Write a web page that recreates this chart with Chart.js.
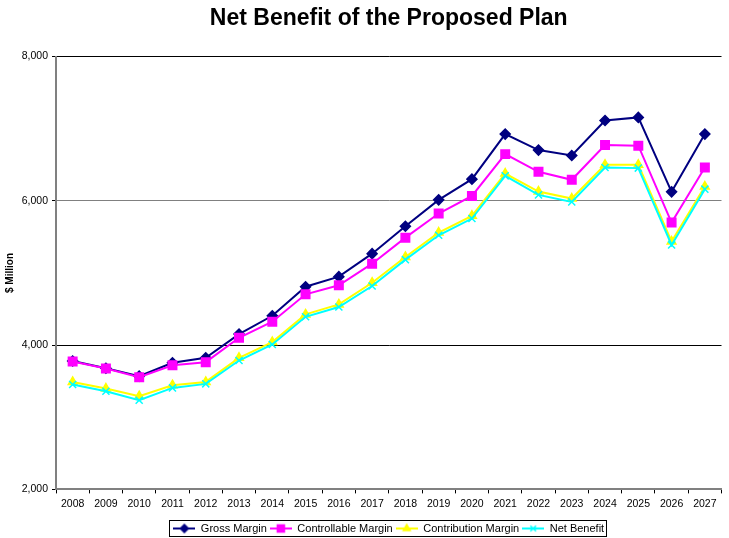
<!DOCTYPE html>
<html>
<head>
<meta charset="utf-8">
<script src="https://cdn.jsdelivr.net/npm/chart.js@4/dist/chart.umd.min.js"></script>
<style>
  html, body { margin: 0; padding: 0; background: #fff; }
  #wrap { width: 729px; height: 538px; }
</style>
</head>
<body>
<div id="wrap"><canvas id="netBenefit" width="729" height="538"></canvas></div>
<script>
const years = ['2008', '2009', '2010', '2011', '2012', '2013', '2014', '2015', '2016', '2017',
               '2018', '2019', '2020', '2021', '2022', '2023', '2024', '2025', '2026', '2027'];

// $ Million
const grossMargin =        [3780, 3680, 3570, 3755, 3824, 4153, 4407, 4810, 4949, 5268,
                            5648, 6014, 6301, 6926, 6704, 6629, 7115, 7157, 6125, 6926];
const controllableMargin = [3773, 3676, 3556, 3722, 3764, 4102, 4324, 4704, 4829, 5129,
                            5490, 5824, 6069, 6648, 6403, 6292, 6773, 6765, 5699, 6463];
const contributionMargin = [3490, 3398, 3292, 3444, 3490, 3824, 4042, 4426, 4565, 4865,
                            5222, 5560, 5792, 6379, 6129, 6032, 6500, 6500, 5435, 6199];
const netBenefit =         [3454, 3361, 3236, 3407, 3463, 3787, 4009, 4393, 4528, 4819,
                            5185, 5523, 5755, 6347, 6083, 5986, 6463, 6454, 5389, 6162];

const yTicks = [2000, 4000, 6000, 8000];

const FONT = 'Arial, "Liberation Sans", sans-serif';

// small line+marker swatch used as the legend symbol
function legendSwatch(color, style, radius) {
	const c = document.createElement('canvas');
	c.width = 22;
	c.height = 12;
	const ctx = c.getContext('2d');
	ctx.strokeStyle = color;
	ctx.lineWidth = 2;
	ctx.beginPath();
	ctx.moveTo(0, 6);
	ctx.lineTo(22, 6);
	ctx.stroke();
	ctx.fillStyle = color;
	ctx.lineWidth = 1.5;
	Chart.helpers.drawPoint(ctx, { pointStyle: style, radius: radius - 1, rotation: 0, borderWidth: 1.5 }, 11, 6);
	return c;
}

function series(label, data, color, style, radius, order) {
	return {
		label: label,
		data: data,
		borderColor: color,
		backgroundColor: color,
		borderWidth: 2,
		pointStyle: style,
		pointRadius: radius,
		pointHoverRadius: radius,
		pointBorderWidth: 1.5,
		tension: 0,
		order: order,
		swatch: legendSwatch(color, style, radius)
	};
}

// legend sits a little lower than the layout puts it, with a frame round it
const legendFrame = {
	id: 'legendFrame',
	afterLayout: function(chart) {
		chart.legend.top += 6;
		chart.legend.bottom += 6;
	},
	afterDraw: function(chart) {
		const boxes = chart.legend.legendHitBoxes;
		if (!boxes || !boxes.length) return;
		let left = Infinity, right = -Infinity, top = Infinity, bottom = -Infinity;
		boxes.forEach(function(b) {
			left = Math.min(left, b.left);
			right = Math.max(right, b.left + b.width);
			top = Math.min(top, b.top);
			bottom = Math.max(bottom, b.top + b.height);
		});
		const ctx = chart.ctx;
		ctx.save();
		ctx.strokeStyle = '#000';
		ctx.lineWidth = 1;
		ctx.strokeRect(Math.round(left - 4) + 0.5, Math.round(top - 3) + 0.5,
		               Math.round(right - left + 6), Math.round(bottom - top + 5));
		ctx.restore();
	}
};

new Chart(document.getElementById('netBenefit'), {
	type: 'line',
	data: {
		labels: years,
		datasets: [
			series('Gross Margin', grossMargin, '#000080', 'rectRot', 5, 3),
			series('Controllable Margin', controllableMargin, '#FF00FF', 'rect', 6, 2),
			series('Contribution Margin', contributionMargin, '#FFFF00', 'triangle', 5, 1),
			series('Net Benefit', netBenefit, '#00FFFF', 'crossRot', 5, 0)
		]
	},
	plugins: [legendFrame],
	options: {
		responsive: false,
		animation: false,
		layout: { padding: { left: 0, right: 4, top: 0, bottom: 0 } },
		plugins: {
			title: {
				display: true,
				text: 'Net Benefit of the Proposed Plan',
				color: '#000',
				fullSize: false,
				font: { family: FONT, size: 23, weight: 'bold' },
				padding: { top: 5, bottom: 24 }
			},
			legend: {
				position: 'bottom',
				fullSize: false,
				sort: function(a, b) { return a.datasetIndex - b.datasetIndex; },
				labels: {
					color: '#000',
					font: { family: FONT, size: 11 },
					usePointStyle: true,
					pointStyleWidth: 22,
					padding: 3,
					generateLabels: function(chart) {
						return chart.data.datasets.map(function(ds, i) {
							return {
								text: ds.label,
								pointStyle: ds.swatch,
								fillStyle: ds.borderColor,
								strokeStyle: ds.borderColor,
								lineWidth: 0,
								hidden: false,
								datasetIndex: i,
								fontColor: '#000'
							};
						});
					}
				}
			},
			tooltip: { enabled: false }
		},
		scales: {
			x: {
				offset: true,
				grid: {
					offset: true,
					drawOnChartArea: false,
					drawTicks: true,
					tickLength: 4,
					tickColor: '#000'
				},
				border: { color: '#808080', width: 2 },
				ticks: {
					color: '#000',
					font: { family: FONT, size: 10.5 },
					maxRotation: 0,
					autoSkip: false,
					padding: 4
				}
			},
			y: {
				min: 2000,
				max: 8000,
				afterBuildTicks: function(scale) {
					scale.ticks = yTicks.map(function(v) { return { value: v }; });
				},
				afterFit: function(scale) { scale.width = 56; },
				grid: {
					color: function(ctx) { return ctx.tick && ctx.tick.value === 6000 ? '#808080' : '#000'; },
					lineWidth: 1,
					tickLength: 4,
					tickColor: '#000'
				},
				border: { color: '#808080', width: 2 },
				ticks: {
					color: '#000',
					font: { family: FONT, size: 10.5 },
					padding: 4,
					callback: function(v) { return v.toLocaleString('en-US'); }
				},
				title: {
					display: true,
					text: '$ Million',
					color: '#000',
					font: { family: FONT, size: 10, weight: 'bold' },
					padding: { top: 4, bottom: 0 }
				}
			}
		}
	}
});
</script>
</body>
</html>
